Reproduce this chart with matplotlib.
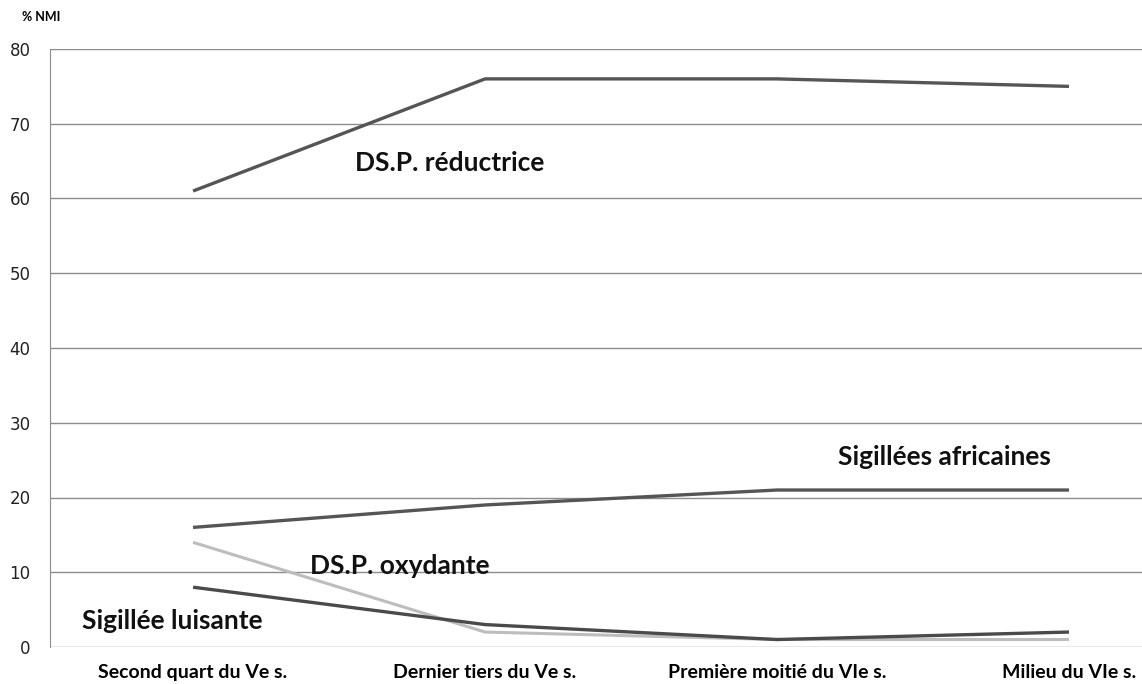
import matplotlib.pyplot as plt

# periodes et pourcentages NMI
periodes = ["Second quart du Ve s.", "Dernier tiers du Ve s.",
            "Première moitié du VIe s.", "Milieu du VIe s."]
dsp_reductrice = [61, 76, 76, 75]
sig_africaines = [16, 19, 21, 21]
dsp_oxydante = [14, 2, 1, 1]
sig_luisante = [8, 3, 1, 2]
yticks = [0, 10, 20, 30, 40, 50, 60, 70, 80]

fig = plt.figure(figsize=(11.42, 6.84), dpi=100)
ax = fig.add_axes([50 / 1142, 37 / 684, 1 - 50 / 1142, 598 / 684])

x = range(len(periodes))
ax.plot(x, dsp_reductrice, color='#555555', lw=2.4, solid_capstyle='butt')
ax.plot(x, sig_africaines, color='#555555', lw=2.4, solid_capstyle='butt')
ax.plot(x, dsp_oxydante, color='#bdbdbd', lw=2.2, solid_capstyle='butt')
ax.plot(x, sig_luisante, color='#4a4a4a', lw=2.4, solid_capstyle='butt')

ax.set_ylim(0, 80)
ax.set_xlim(-0.49, 3.25)
ax.set_yticks(yticks)
ax.set_xticks(list(x))
ax.set_xticklabels(periodes, fontfamily='Lato', fontweight='bold', fontsize=14)
ax.tick_params(axis='y', length=0, pad=14, labelsize=12, labelcolor='#222222')
ax.tick_params(axis='x', length=0, pad=12)
ax.grid(axis='y', color='#8c8c8c', lw=1)
ax.set_axisbelow(True)
for s in ['top', 'right', 'bottom']:
    ax.spines[s].set_visible(False)
ax.spines['left'].set_color('#8c8c8c')

lab = dict(fontfamily='Lato', fontweight='bold', fontsize=19, color='#111111', va='center')
ax.text(0.555, 64.7, "DS.P. réductrice", **lab)
ax.text(2.21, 25.4, "Sigillées africaines", **lab)
ax.text(0.40, 10.8, "DS.P. oxydante", **lab)
ax.text(-0.38, 3.5, "Sigillée luisante", **lab)

fig.text(22 / 1142, 1 - 17 / 684, "% NMI", fontfamily='Lato', fontweight='bold',
         fontsize=9, va='center')

fig.savefig("out.png", dpi=100)
